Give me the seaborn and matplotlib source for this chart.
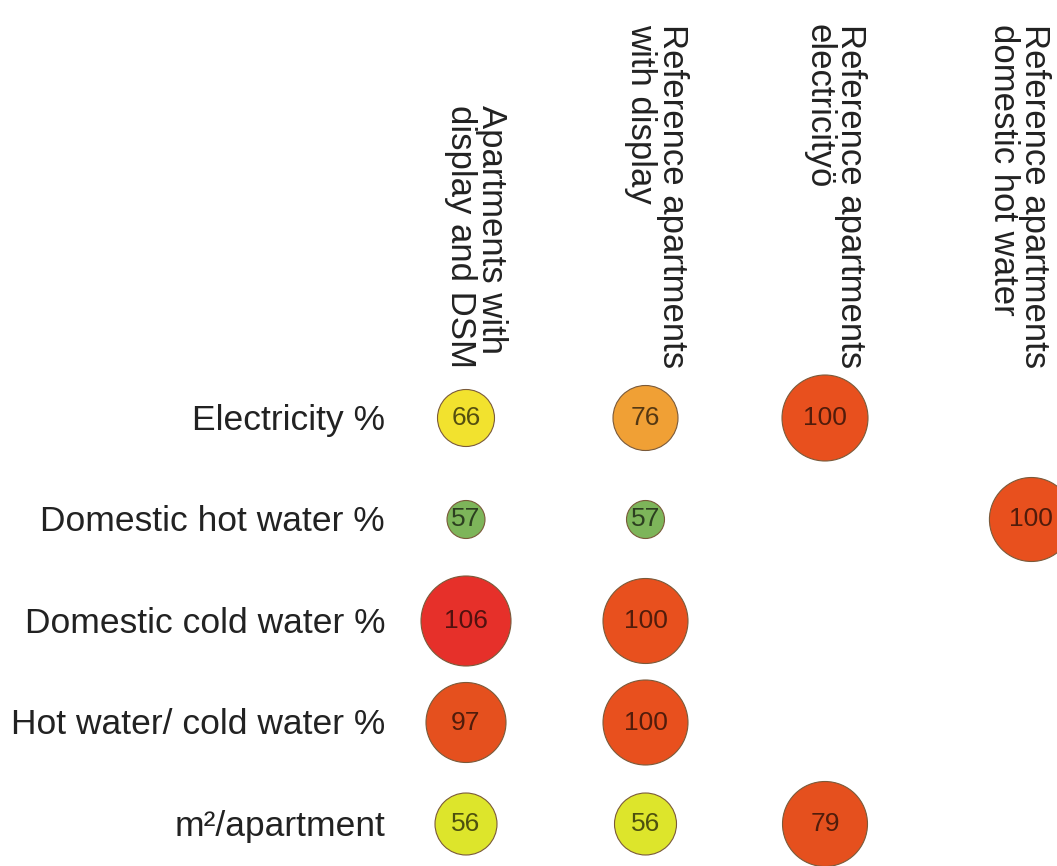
import pandas as pd
import seaborn as sns
import matplotlib.pyplot as plt
import matplotlib.colors as mcolors
import numpy as np

# Row and column labels
rows = ['Electricity %', 'Domestic hot water %', 'Domestic cold water %',
        'Hot water/ cold water %', 'm\u00b2/apartment']
groups = ['Apartments with\ndisplay and DSM',
          'Reference apartments\nwith display',
          'Reference apartments\nelectricity\u00f6',
          'Reference apartments\ndomestic hot water']

# Values per column (None = no bubble)
dsm_display = [66, 57, 106, 97, 56]
ref_display = [76, 57, 100, 100, 56]
ref_electricity = [100, None, None, None, 79]
ref_hot_water = [None, 100, None, None, None]
values = [dsm_display, ref_display, ref_electricity, ref_hot_water]

# Bubble look per cell: diameter in pixels and fill colour
diam = [[57, 38, 90, 80, 62],
        [65, 38, 85, 85, 62],
        [86, None, None, None, 85],
        [None, 84, None, None, None]]
fill = [['#f2e22e', '#7db55a', '#e6302a', '#e5501e', '#dde52b'],
        ['#f0a035', '#7db55a', '#e8501e', '#e8501e', '#dde52b'],
        ['#e8501e', None, None, None, '#e5501e'],
        [None, '#e8501e', None, None, None]]

# column placement (the last column sits a bit further out)
col_x = [0, 1, 2, 3.15]
# header text centres
head_x = [0.055, 1.06, 2.055, 3.08]

recs = []
for j in range(len(groups)):
    for i in range(len(rows)):
        v = values[j][i]
        if v is None:
            continue
        recs.append(dict(cell=f'{j}-{i}', x=col_x[j], y=i, value=v,
                         d=diam[j][i], c=fill[j][i]))
df = pd.DataFrame(recs)

sns.set_theme(style='white')
plt.rcParams['font.family'] = ['Liberation Sans', 'DejaVu Sans']

fig = plt.figure(figsize=(10.57, 8.66), dpi=100)
ax = fig.add_axes([0, 0, 1, 1])

sns.scatterplot(data=df, x='x', y='y', hue='cell',
                palette=dict(zip(df['cell'], df['c'])),
                size='cell', sizes=dict(zip(df['cell'], (df['d'] * 0.72) ** 2)),
                legend=False, edgecolor='#7a5a3a', linewidth=0.8, ax=ax)

# numbers inside bubbles, in a dark shade of the fill
for _, r in df.iterrows():
    dark = np.array(mcolors.to_rgb(r['c'])) * 0.35
    ax.text(r['x'], r['y'], str(r['value']), ha='center', va='center',
            fontsize=19, color=dark)

# pixel-like layout: 179.5 px per column, 101.5 px per row
ax.set_xlim(-466 / 179.5, (1057 - 466) / 179.5)
ax.set_ylim((866 - 418) / 101.5, -418 / 101.5)
ax.axis('off')

# row labels
for i, lab in enumerate(rows):
    ax.text(-0.451, i + 0.02, lab, ha='right', va='center', fontsize=25.5, color='#222222')

# rotated column headers
for j, lab in enumerate(groups):
    ax.text(head_x[j], -0.493, lab, rotation=270, ha='center', va='bottom',
            multialignment='left', fontsize=25, linespacing=0.95, color='#222222')

fig.savefig('out.png', dpi=100)
